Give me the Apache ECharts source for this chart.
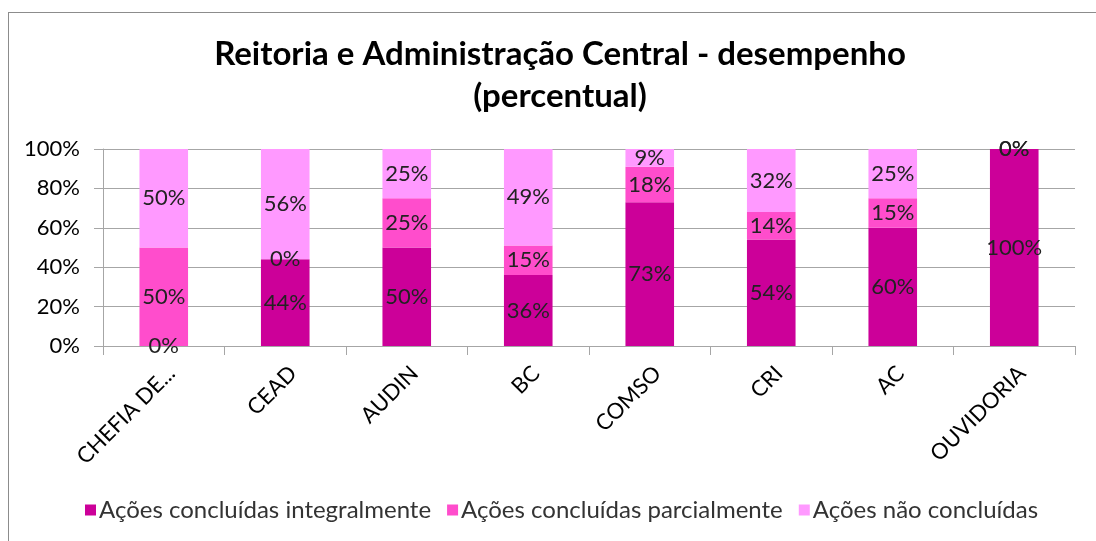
<!DOCTYPE html>
<html>
<head>
<meta charset="utf-8">
<script src="https://cdn.jsdelivr.net/npm/echarts@6/dist/echarts.min.js"></script>
<style>
  html, body { margin: 0; padding: 0; background: #fff; }
  #frame { position: absolute; left: 8px; top: 12px; width: 1100px; height: 540px; border: 1px solid #8c8c8c; }
  #chart { position: absolute; left: 0; top: 0; width: 1096px; height: 541px; }
</style>
</head>
<body>
<div id="frame"></div>
<div id="chart"></div>
<script>
// setores
const categories = ['CHEFIA DE...', 'CEAD', 'AUDIN', 'BC', 'COMSO', 'CRI', 'AC', 'OUVIDORIA']
// percentuais por setor
const integral = [0, 44, 50, 36, 73, 54, 60, 100]
const parcial = [50, 0, 25, 15, 18, 14, 15, 0]
const naoConcluidas = [50, 56, 25, 49, 9, 32, 25, 0]
const yTicks = [0, 20, 40, 60, 80, 100]

const seriesNames = ['Ações concluídas integralmente', 'Ações concluídas parcialmente', 'Ações não concluídas']
const colors = ['#CC0099', '#FF4DCC', '#FF99FF']
const font = 'Lato, "Open Sans", sans-serif'

let chart = echarts.init(document.getElementById('chart'))

let makeSeries = (name, data, color) => ({
  name: name,
  type: 'bar',
  stack: 'total',
  barWidth: '40%',
  data: data,
  itemStyle: { color: color },
  label: {
    show: true,
    position: 'inside',
    formatter: '{c}%',
    color: '#222',
    fontFamily: font,
    fontSize: 22
  }
})

chart.setOption({
  animation: false,
  color: colors,
  title: {
    text: 'Reitoria e Administração Central - desempenho\n(percentual)',
    left: 555,
    textAlign: 'center',
    top: 28,
    textStyle: {
      fontFamily: font,
      fontWeight: 'bold',
      fontSize: 33,
      lineHeight: 42,
      color: '#000'
    }
  },
  legend: {
    top: 493,
    left: 80,
    itemWidth: 11,
    itemHeight: 11,
    itemGap: 16,
    icon: 'rect',
    textStyle: { fontFamily: font, fontSize: 24, color: '#333', padding: [0, 0, 0, -2] },
    data: seriesNames
  },
  grid: {
    left: 103,
    right: 21,
    top: 149,
    height: 197,
    containLabel: false
  },
  xAxis: {
    type: 'category',
    data: categories,
    axisLine: { lineStyle: { color: '#a6a6a6' } },
    axisTick: { show: true, length: 9, lineStyle: { color: '#a6a6a6' } },
    axisLabel: {
      rotate: 45,
      margin: 16,
      interval: 0,
      verticalAlign: 'top',
      color: '#000',
      fontFamily: font,
      fontSize: 22
    }
  },
  yAxis: {
    type: 'value',
    min: yTicks[0],
    max: yTicks[yTicks.length - 1],
    interval: yTicks[1] - yTicks[0],
    axisLine: { show: true, lineStyle: { color: '#a6a6a6' } },
    axisTick: { show: true, length: 9, lineStyle: { color: '#a6a6a6' } },
    splitLine: { lineStyle: { color: '#a6a6a6' } },
    axisLabel: {
      formatter: '{value}%',
      margin: 23,
      color: '#000',
      fontFamily: font,
      fontSize: 22
    }
  },
  series: [
    makeSeries(seriesNames[0], integral, colors[0]),
    makeSeries(seriesNames[1], parcial, colors[1]),
    makeSeries(seriesNames[2], naoConcluidas, colors[2])
  ]
})
</script>
</body>
</html>
